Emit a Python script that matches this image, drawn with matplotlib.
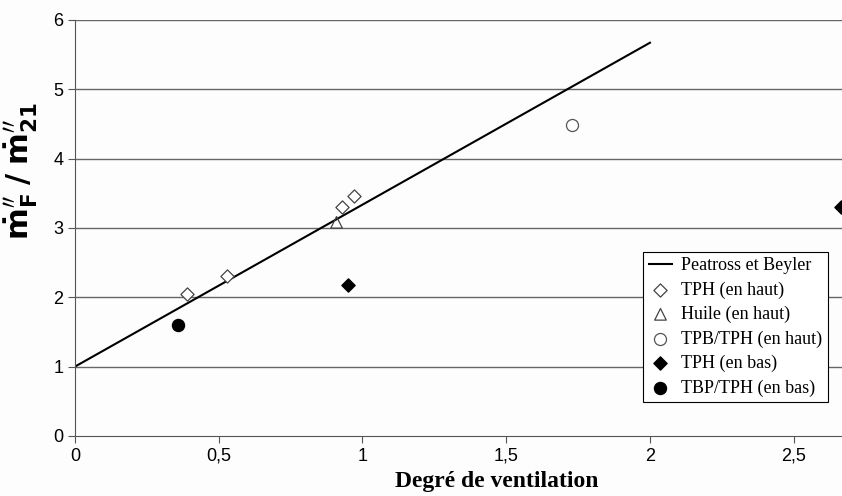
"""
Degré de ventilation vs mass loss rate ratio
"""

import numpy as np
import matplotlib.pyplot as plt

# Peatross et Beyler correlation
line_x = [0, 2]
line_y = [1, 5.67]

# measured points
tph_haut_x = [0.39, 0.53, 0.93, 0.97]
tph_haut_y = [2.05, 2.30, 3.30, 3.46]

huile_x = [0.91]
huile_y = [3.08]

tpb_haut_x = [1.73]
tpb_haut_y = [4.49]

tph_bas_x = [0.95, 2.665]
tph_bas_y = [2.17, 3.30]

tbp_bas_x = [0.36]
tbp_bas_y = [1.60]

x_ticks = [0, 0.5, 1, 1.5, 2, 2.5]
x_tick_labels = ["0", "0,5", "1", "1,5", "2", "2,5"]
y_ticks = [0, 1, 2, 3, 4, 5, 6]


def plot_ventilation():
    fig = plt.figure(figsize=(8.42, 4.96), dpi=100, facecolor="#fcfdfc")
    ax = fig.add_axes([0.089, 0.121, 0.911, 0.839])
    ax.set_facecolor("#fcfdfc")

    ax.plot(line_x, line_y, color="black", lw=1.5, label="Peatross et Beyler")
    ax.scatter(tph_haut_x, tph_haut_y, marker="D", s=45, facecolors="white",
               edgecolors="#444444", linewidths=0.9, label="TPH (en haut)", zorder=3)
    ax.scatter(huile_x, huile_y, marker="^", s=70, facecolors="none",
               edgecolors="#444444", linewidths=0.9, label="Huile (en haut)", zorder=3)
    ax.scatter(tpb_haut_x, tpb_haut_y, marker="o", s=75, facecolors="white",
               edgecolors="#555555", linewidths=0.9, label="TPB/TPH (en haut)", zorder=3)
    ax.scatter(tph_bas_x, tph_bas_y, marker="D", s=45, color="black",
               label="TPH (en bas)", zorder=3)
    ax.scatter(tbp_bas_x, tbp_bas_y, marker="o", s=75, color="black",
               label="TBP/TPH (en bas)", zorder=3)

    ax.set_xlim(0, 2.668)
    ax.set_ylim(0, 6)
    ax.set_xticks(x_ticks)
    ax.set_xticklabels(x_tick_labels)
    ax.set_yticks(y_ticks)
    ax.tick_params(labelsize=13, direction="out", length=5, color="#555555")
    for lab in ax.get_xticklabels() + ax.get_yticklabels():
        lab.set_fontfamily("Liberation Sans")

    for y in y_ticks[1:]:
        ax.axhline(y, color="#666666", lw=1, zorder=1)

    for side in ["top", "right"]:
        ax.spines[side].set_visible(False)
    for side in ["left", "bottom"]:
        ax.spines[side].set_color("#555555")

    ax.set_xlabel("Degré de ventilation", fontsize=17, fontweight="bold",
                  family="Liberation Serif", labelpad=2)
    ax.xaxis.set_label_coords(0.55, -0.085)
    ax.set_ylabel(r"$\mathbf{\dot{m}^{\prime\prime}_{F}\;/\;\dot{m}^{\prime\prime}_{21}}$",
                  fontsize=22)
    ax.yaxis.set_label_coords(-0.046, 0.635)

    leg = ax.legend(loc="upper left", bbox_to_anchor=(0.741, 0.443),
                    prop={"family": "Liberation Serif", "size": 13},
                    frameon=True, fancybox=False, framealpha=1,
                    edgecolor="black", borderpad=0.3, labelspacing=0.4,
                    handlelength=1.3, handletextpad=0.5, borderaxespad=0)
    leg.get_frame().set_linewidth(0.8)

    plt.savefig("out.png", dpi=100, facecolor=fig.get_facecolor())


if __name__ == "__main__":
    plot_ventilation()
